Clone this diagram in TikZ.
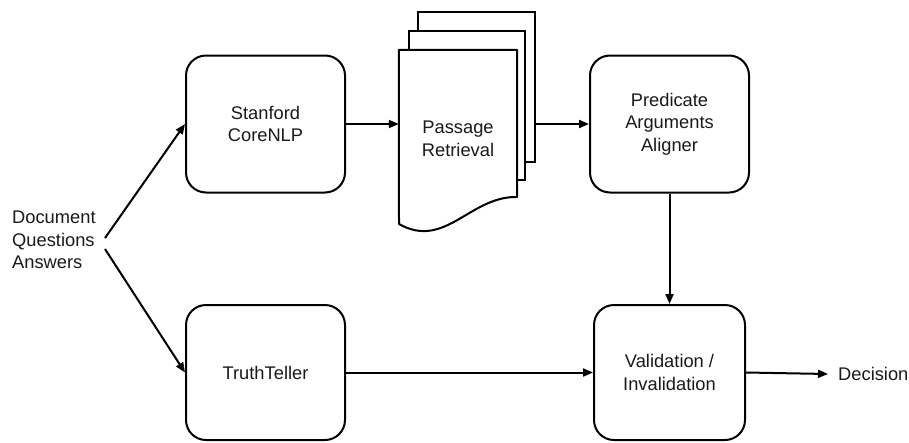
\documentclass[tikz,border=0pt]{standalone}
\usepackage{fontspec}
\setmainfont{Liberation Sans}
\usetikzlibrary{arrows.meta}
\begin{document}
\begin{tikzpicture}[x=1pt,y=-1pt,
  every node/.style={font=\fontsize{18.3}{22.5}\selectfont, text=black!90},
  proc/.style={draw, line width=2pt, rounded corners=20pt, minimum width=159pt, minimum height=137pt, align=center, inner sep=0pt},
  page/.style={draw, line width=2pt, fill=white, inner sep=0pt},
  conn/.style={line width=2pt, -{Triangle[length=10pt,width=8pt]}}]
\useasboundingbox (0,0) rectangle (909,442);

% process boxes
\node[proc] (core) at (265.5,124) {Stanford\\CoreNLP};
\node[proc, minimum height=135pt] (truth) at (265.5,372.5) {TruthTeller};
\node[proc] (pred) at (669.5,124) {Predicate\\Arguments\\Aligner};
\node[proc, minimum width=151pt, minimum height=135pt] (valid) at (669.5,372.5) {Validation /\\Invalidation};

% multi-document
\node[page, minimum width=117pt, minimum height=150pt] (docback) at (476.5,87) {};
\node[page, minimum width=116pt, minimum height=149pt] (docmid) at (467,105.5) {};
\node[inner sep=0pt, minimum width=118pt, minimum height=147pt] (doc) at (458,123.5) {};
\filldraw[line width=2pt, fill=white, line join=round]
  (doc.north west) -- (doc.north east) -- (517,197)
  .. controls (470,196) and (445,250) .. (399,224) -- cycle;
\node[align=center] (doctext) at (458,139) {Passage\\Retrieval};

% inputs
\node[align=left, anchor=west, inner sep=0pt] (inputs) at (12,240) {Document\\Questions\\Answers};
\coordinate (inTop) at (105,238);
\coordinate (inBot) at (105,249);

% output
\node[anchor=west, inner xsep=10pt, inner ysep=0pt] (dec) at (828,374) {Decision};

% connectors
\draw[conn] (inTop) -- (core.west);
\draw[conn] (inBot) -- (truth.west);
\draw[conn] (core.east) -- (core.east -| doc.west);
\draw[conn] (docback.east |- pred.west) -- (pred.west);
\draw[conn] (pred.south) -- (valid.north);
\draw[conn] (truth.east) -- (valid.west);
\draw[conn] (valid.east) -- (dec.west);
\end{tikzpicture}
\end{document}
